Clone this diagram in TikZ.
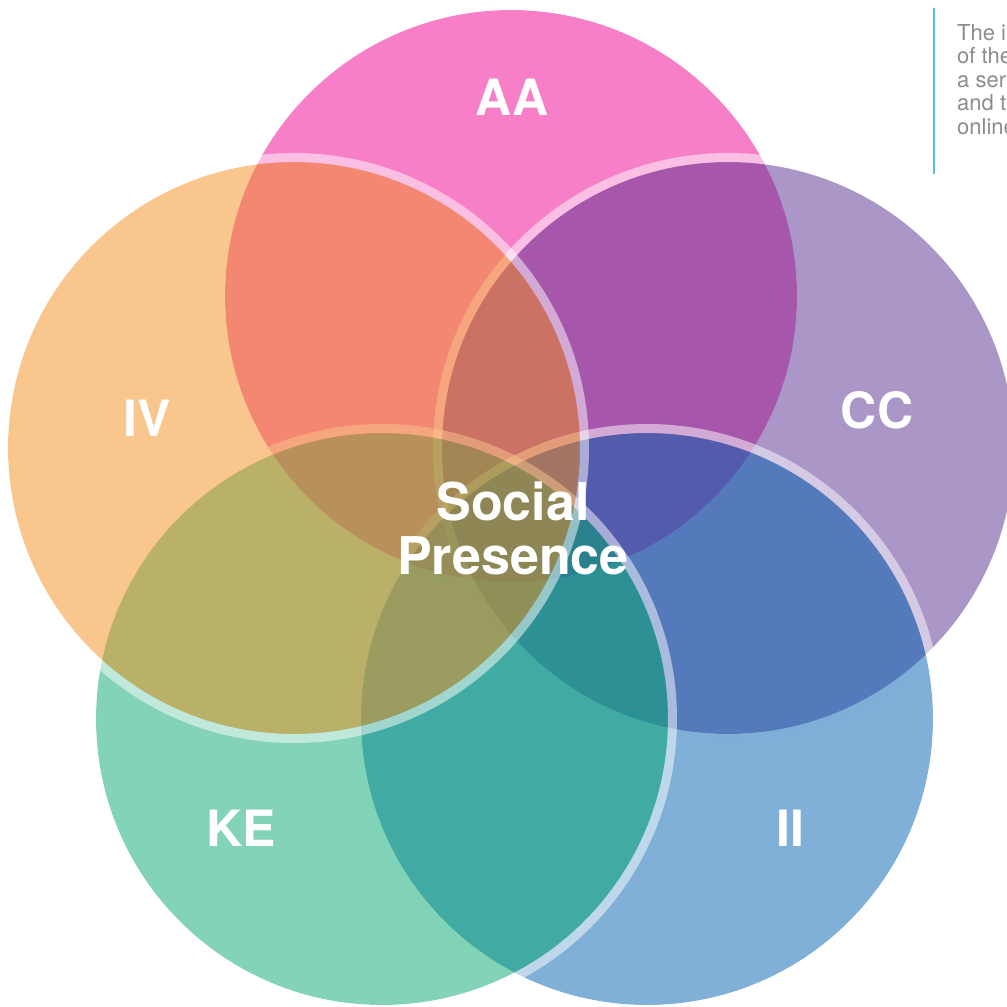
\documentclass[tikz,border=0pt]{standalone}
\usepackage{fontspec}
\setmainfont{TeX Gyre Heros}
\usepackage{tikz}
\usetikzlibrary{positioning}
\definecolor{colAA}{HTML}{EF008F}
\definecolor{colIV}{HTML}{F38F1D}
\definecolor{colCC}{HTML}{572D91}
\definecolor{colKE}{HTML}{05A76F}
\definecolor{colII}{HTML}{0161B1}
\definecolor{noteline}{HTML}{5BBBE6}
\definecolor{notetext}{HTML}{8C8C8C}
\begin{document}
\begin{tikzpicture}[x=1pt,y=-1pt]
		\tikzstyle{disc} = [fill opacity=0.5]
		\tikzstyle{ring} = [draw=white, draw opacity=0.5, line width=9]
		\tikzstyle{label} = [text=white, font=\fontsize{50}{50}\selectfont\bfseries, inner sep=0]
		\useasboundingbox (0,0) rectangle (1007,1007);
		\coordinate (cAA) at (511,296);
		\coordinate (cIV) at (294,448);
		\coordinate (cCC) at (728,448);
		\coordinate (cKE) at (382,719);
		\coordinate (cII) at (647,719);
		% each disc, then its white ring, bottom to top
		\foreach \c/\col in {cAA/colAA, cCC/colCC, cII/colII, cKE/colKE, cIV/colIV}{
			\fill [disc, \col] (\c) circle (286);
			\draw [ring] (\c) circle (290.5);
		}
		% labels
		\node [label] (lAA) at (512,97) {AA};
		\node [label] (lIV) at (147,418) {IV};
		\node [label] (lCC) at (877,410) {CC};
		\node [label] (lKE) at (241,828) {KE};
		\node [label] (lII) at (790,828) {II};
		\node [label, align=center, font=\fontsize{52}{54}\selectfont\bfseries] (lSP) at (513,528) {Social\\Presence};
		% side note
		\coordinate (nTop) at (934,8);
		\coordinate (nBot) at (934,174);
		\draw [noteline, line width=2] (nTop) -- (nBot);
		\node [anchor=north west, align=left, inner sep=0, text=notetext, font=\fontsize{22}{23.5}\selectfont] (note) at (957,24) {The i\\of the\\a ser\\and t\\online};
\end{tikzpicture}
\end{document}
